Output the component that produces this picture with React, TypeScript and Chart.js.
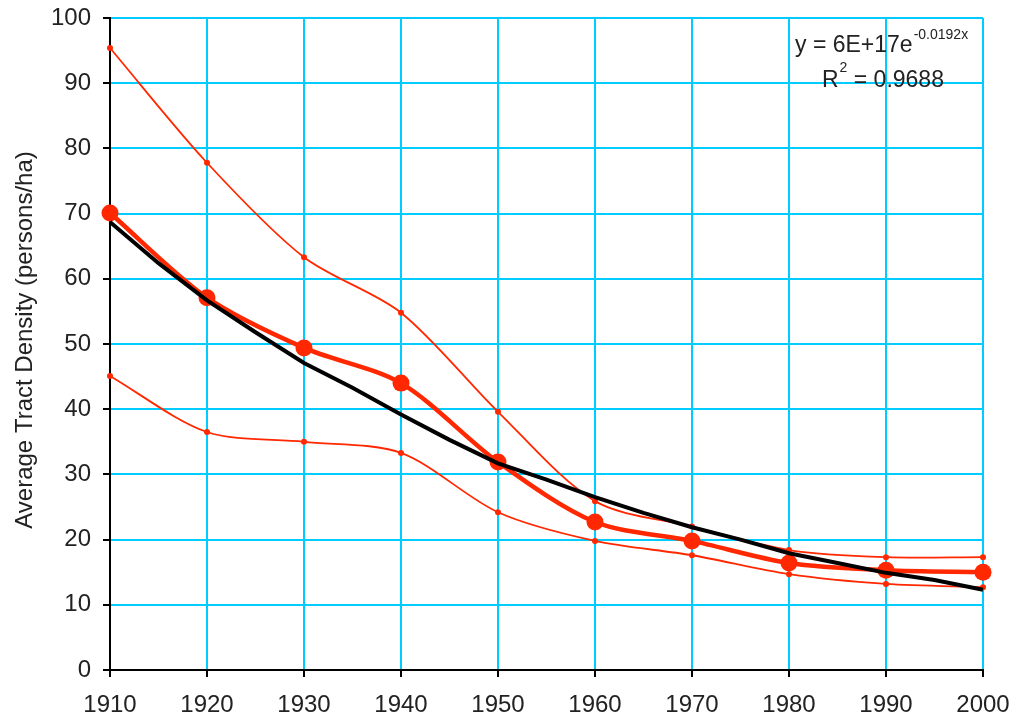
import React, { useEffect, useRef } from "react";
import { Chart, registerables } from "chart.js";

Chart.register(...registerables);

const years = [1910, 1920, 1930, 1940, 1950, 1960, 1970, 1980, 1990, 2000];
const upperValues = [95.4, 77.8, 63.3, 54.8, 39.6, 25.9, 22.0, 18.4, 17.3, 17.3];
const averageValues = [70.1, 57.1, 49.4, 44.0, 31.9, 22.7, 19.8, 16.4, 15.3, 15.0];
const lowerValues = [45.1, 36.5, 35.0, 33.3, 24.2, 19.8, 17.6, 14.7, 13.2, 12.7];
const trendYears = [1910, 1915, 1920, 1925, 1930, 1935, 1940, 1945, 1950, 1955, 1960, 1965, 1970, 1975, 1980, 1985, 1990, 1995, 2000];
const trendValues = [68.7, 62.4, 56.7, 51.8, 47.1, 43.3, 39.2, 35.3, 31.7, 29.2, 26.5, 24.1, 21.9, 20.0, 17.9, 16.4, 14.9, 13.8, 12.3];
const yTitle = "Average Tract Density (persons/ha)";
const eqMain = "y = 6E+17e";
const eqExp = "-0.0192x";
const r2Main = "R";
const r2Sup = "2";
const r2Rest = " = 0.9688";

const RED = "rgb(255,40,0)";
const CYAN = "#00CCFF";
const FONT = "'Liberation Sans', Arial, sans-serif";

const pts = (xs: number[], ys: number[]) => xs.map((x, i) => ({ x, y: ys[i] }));

const textPlugin = {
  id: "textPlugin",
  afterDraw(chart: any) {
    const ctx = chart.ctx;
    ctx.save();
    ctx.fillStyle = "#222";
    ctx.save();
    ctx.translate(32, 340);
    ctx.rotate(-Math.PI / 2);
    ctx.font = `24px ${FONT}`;
    ctx.textAlign = "center";
    ctx.textBaseline = "alphabetic";
    ctx.fillText(yTitle, 0, 0);
    ctx.restore();
    ctx.textAlign = "left";
    ctx.textBaseline = "alphabetic";
    ctx.font = `23px ${FONT}`;
    ctx.fillText(eqMain, 795, 52);
    const w = ctx.measureText(eqMain).width;
    ctx.font = `14px ${FONT}`;
    ctx.fillText(eqExp, 795 + w + 1, 39);
    ctx.font = `23px ${FONT}`;
    ctx.fillText(r2Main, 822, 87);
    const wr = ctx.measureText(r2Main).width;
    ctx.font = `14px ${FONT}`;
    ctx.fillText(r2Sup, 822 + wr + 1, 72);
    const ws = ctx.measureText(r2Sup).width;
    ctx.font = `23px ${FONT}`;
    ctx.fillText(r2Rest, 822 + wr + ws + 1, 87);
    ctx.restore();
  },
};

export default function App() {
  const ref = useRef<HTMLCanvasElement>(null);
  useEffect(() => {
    if (!ref.current) return;
    const chart = new Chart(ref.current, {
      type: "line",
      data: {
        datasets: [
          {
            label: "Trend",
            data: pts(trendYears, trendValues),
            borderColor: "#000",
            borderWidth: 4,
            pointRadius: 0,
            tension: 0,
            order: 0,
            clip: false as any,
          },
          {
            label: "Average",
            data: pts(years, averageValues),
            borderColor: RED,
            backgroundColor: RED,
            borderWidth: 4.5,
            pointRadius: 8.5,
            pointBorderWidth: 0,
            tension: 0.3,
            order: 1,
            clip: false as any,
          },
          {
            label: "Upper",
            data: pts(years, upperValues),
            borderColor: RED,
            backgroundColor: RED,
            borderWidth: 1.8,
            pointRadius: 3,
            pointBorderWidth: 0,
            tension: 0.3,
            order: 2,
            clip: false as any,
          },
          {
            label: "Lower",
            data: pts(years, lowerValues),
            borderColor: RED,
            backgroundColor: RED,
            borderWidth: 1.8,
            pointRadius: 3,
            pointBorderWidth: 0,
            tension: 0.3,
            order: 3,
            clip: false as any,
          },
        ],
      },
      options: {
        responsive: false,
        animation: false,
        events: [],
        layout: { padding: { left: 0, right: 31, top: 18, bottom: 0 } },
        plugins: { legend: { display: false }, tooltip: { enabled: false } },
        scales: {
          x: {
            type: "linear",
            min: 1910,
            max: 2000,
            ticks: {
              stepSize: 10,
              color: "#222",
              font: { family: FONT, size: 24 },
              padding: 14,
              maxRotation: 0,
              callback: (v: any) => String(v),
            },
            grid: { color: CYAN, lineWidth: 2, tickColor: "#000", tickLength: 7, tickWidth: 2 },
            border: { color: "#000", width: 2 },
            afterFit: (s: any) => {
              s.height = 51;
              s.paddingLeft = 0;
              s.paddingRight = 0;
            },
          },
          y: {
            min: 0,
            max: 100,
            ticks: {
              stepSize: 10,
              color: "#222",
              font: { family: FONT, size: 24 },
              padding: 12,
            },
            grid: { color: CYAN, lineWidth: 2, tickColor: "#000", tickLength: 7, tickWidth: 2 },
            border: { color: "#000", width: 2 },
            afterFit: (s: any) => {
              s.width = 110;
              s.paddingTop = 0;
              s.paddingBottom = 0;
            },
          },
        },
      },
      plugins: [textPlugin],
    } as any);
    return () => chart.destroy();
  }, []);
  return (
    <div style={{ position: "fixed", left: 0, top: 0, width: 1014, height: 721, background: "#fff" }}>
      <canvas ref={ref} width={1014} height={721} />
    </div>
  );
}
